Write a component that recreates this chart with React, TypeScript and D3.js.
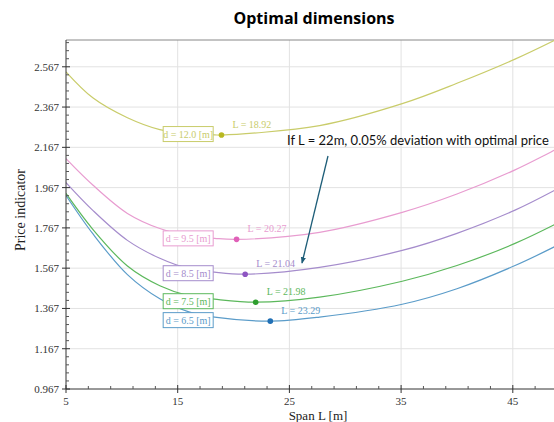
import React from "react";
import * as d3 from "d3";

// Data
const seriesLabels = ["d = 12.0 [m]", "d = 9.5 [m]", "d = 8.5 [m]", "d = 7.5 [m]", "d = 6.5 [m]"];
const optimalSpan = [18.92, 20.27, 21.04, 21.98, 23.29];
const optimalPrice = [2.228, 1.71, 1.537, 1.398, 1.304];
const spanPoints = [5, 7.4, 10.5, 13.4, 16, 18.3, 27.7, 35.1, 40, 45.2, 48.8];
const price12 = [2.542, 2.413, 2.314, 2.255, 2.235, 2.229, 2.275, 2.384, 2.485, 2.605, 2.7];
const price95 = [2.111, 1.98, 1.839, 1.764, 1.728, 1.715, 1.745, 1.844, 1.935, 2.055, 2.155];
const price85 = [1.992, 1.854, 1.705, 1.616, 1.565, 1.547, 1.571, 1.655, 1.74, 1.855, 1.955];
const price75 = [1.938, 1.76, 1.578, 1.48, 1.43, 1.413, 1.423, 1.502, 1.58, 1.69, 1.785];
const price65 = [1.928, 1.738, 1.535, 1.415, 1.35, 1.324, 1.324, 1.388, 1.465, 1.58, 1.675];
const seriesValues = [price12, price95, price85, price75, price65];
const lineColors = ["#c9cc6a", "#e89cd0", "#a58ccc", "#5cb85c", "#5b9cc9"];
const dotColors = ["#b8b820", "#e060b8", "#8e55c2", "#2e9e2e", "#2170b5"];
const xTicks = [5, 15, 25, 35, 45];
const xMinor = [7, 9, 11, 13, 17, 19, 21, 23, 27, 29, 31, 33, 37, 39, 41, 43, 47, 49];
const yTicks = [0.967, 1.167, 1.367, 1.567, 1.767, 1.967, 2.167, 2.367, 2.567];
const labelSpan = 13.7;
const annotation = "If L = 22m, 0.05% deviation with optimal price";

const W = 554;
const H = 422;
const left = 66;
const top = 40;
const bottom = 389;

export default function App() {
  const x = d3.scaleLinear().domain([5, 50]).range([left, left + 45 * 11.17]);
  const y = d3.scaleLinear().domain([0.967, 2.7]).range([bottom, top]);
  const yMinor = d3.range(0.967, 2.7, 0.04).filter((v) => !yTicks.some((t) => Math.abs(t - v) < 1e-6));

  const line = d3
    .line<[number, number]>()
    .x((d) => x(d[0]))
    .y((d) => y(d[1]))
    .curve(d3.curveCatmullRom.alpha(0.5));

  const serif = "'Liberation Serif', 'DejaVu Serif', serif";

  return (
    <svg width={W} height={H} style={{ position: "absolute", left: 0, top: 0, background: "#fff" }}>
      <defs>
        <clipPath id="plot">
          <rect x={left} y={top} width={W - left} height={bottom - top} />
        </clipPath>
        <marker id="arrow" viewBox="0 0 10 10" refX="9" refY="5" markerWidth="5" markerHeight="5" orient="auto">
          <path d="M0,1 L10,5 L0,9 z" fill="#1d5d78" />
        </marker>
      </defs>

      <text x={314} y={24} textAnchor="middle" fontFamily="'Open Sans', sans-serif" fontWeight={700} fontSize={16}>
        Optimal dimensions
      </text>

      {/* grid */}
      {xTicks.slice(1).map((t) => (
        <line key={"gx" + t} x1={x(t)} x2={x(t)} y1={top} y2={bottom} stroke="#e2e2e2" />
      ))}
      {yTicks.slice(1).map((t) => (
        <line key={"gy" + t} x1={left} x2={W} y1={y(t)} y2={y(t)} stroke="#e2e2e2" />
      ))}
      <line x1={left} x2={W} y1={top} y2={top} stroke="#888" />

      {/* curves */}
      <g clipPath="url(#plot)">
        {seriesValues.map((vals, i) => {
          const pts: [number, number][] = spanPoints.map((s, j) => [s, vals[j]] as [number, number]);
          pts.push([optimalSpan[i], optimalPrice[i]]);
          pts.sort((a, b) => a[0] - b[0]);
          return <path key={i} d={line(pts) || ""} fill="none" stroke={lineColors[i]} strokeWidth={1.2} />;
        })}
      </g>

      {/* axes */}
      <line x1={left} x2={left} y1={top} y2={bottom} stroke="#333" />
      <line x1={left} x2={W} y1={bottom} y2={bottom} stroke="#333" />
      {yTicks.map((t) => (
        <g key={"yt" + t}>
          <line x1={left - 4} x2={left + 4} y1={y(t)} y2={y(t)} stroke="#333" />
          <text x={left - 7} y={y(t) + 4} textAnchor="end" fontFamily={serif} fontSize={11} fill="#333">
            {d3.format(".3f")(t)}
          </text>
        </g>
      ))}
      {yMinor.map((t) => (
        <line key={"ym" + t} x1={left} x2={left + 3} y1={y(t)} y2={y(t)} stroke="#555" />
      ))}
      {xTicks.map((t) => (
        <g key={"xt" + t}>
          <line x1={x(t)} x2={x(t)} y1={bottom - 4} y2={bottom + 4} stroke="#333" />
          <text x={x(t)} y={bottom + 16} textAnchor="middle" fontFamily={serif} fontSize={11} fill="#333">
            {t}
          </text>
        </g>
      ))}
      {xMinor.map((t) => (
        <line key={"xm" + t} x1={x(t)} x2={x(t)} y1={bottom} y2={bottom - 3} stroke="#555" />
      ))}

      <text x={318} y={420} textAnchor="middle" fontFamily={serif} fontSize={13} fill="#222">
        Span L [m]
      </text>
      <text
        transform={`translate(25,${210}) rotate(-90)`}
        textAnchor="middle"
        fontFamily={serif}
        fontSize={14}
        fill="#222"
      >
        Price indicator
      </text>

      {/* labels and optimum markers */}
      {seriesLabels.map((lab, i) => {
        const bx = x(labelSpan);
        const by = y(optimalPrice[i]) - 1;
        return (
          <g key={"lab" + i}>
            <rect x={bx} y={by - 7.5} width={50} height={15} fill="#fff" stroke={lineColors[i]} strokeWidth={1} />
            <text x={bx + 25} y={by + 3.5} textAnchor="middle" fontFamily={serif} fontSize={10} fill={lineColors[i]}>
              {lab}
            </text>
            <circle cx={x(optimalSpan[i])} cy={y(optimalPrice[i])} r={2.8} fill={dotColors[i]} />
            <text
              x={x(optimalSpan[i]) + 11}
              y={y(optimalPrice[i]) - 7}
              fontFamily={serif}
              fontSize={10}
              fill={lineColors[i]}
            >
              {"L = " + d3.format(".2f")(optimalSpan[i])}
            </text>
          </g>
        );
      })}

      {/* annotation */}
      <text x={287} y={145} fontFamily="Lato, 'Open Sans', sans-serif" fontSize={13} fill="#111">
        {annotation}
      </text>
      <line x1={328} y1={156} x2={302} y2={263} stroke="#1d5d78" strokeWidth={1.3} markerEnd="url(#arrow)" />
    </svg>
  );
}
